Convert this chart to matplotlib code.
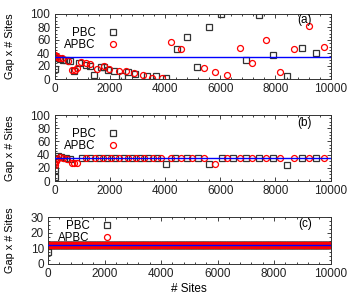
import numpy as np
import matplotlib
matplotlib.use("Agg")
import matplotlib.pyplot as plt
from matplotlib.ticker import MultipleLocator

plt.rcParams['font.family'] = ['Liberation Sans', 'DejaVu Sans']

# ---------------- data ----------------
# panel (a)
pbc_a_x = [0, 0, 100, 200, 300, 420, 560, 700, 900, 1150, 1280, 1440, 1670, 1800,
           1950, 2140, 2440, 2650, 2900, 3350, 3690, 4030,
           4420, 4790, 5170, 5590, 6030, 6920, 7420, 7900, 8420, 8950, 9480]
pbc_a_y = [15, 34, 32, 31, 30, 30, 28, 12, 25, 22, 20, 6, 18, 18,
           14, 12, 4, 11, 8, 4, 4, 1,
           46, 65, 18, 80, 99.5, 29, 98, 37, 4.6, 47, 40]
apbc_a_x = [0, 50, 100, 170, 270, 500, 620, 740, 830, 970, 1130, 1300, 1550, 1790,
            1970, 2320, 2590, 2870, 3190, 3530, 3890, 4200,
            4580, 5400, 5810, 6260, 6700, 7160, 7650, 8150, 8670, 9200, 9760]
apbc_a_y = [37, 36, 34, 33, 32, 28, 14, 14, 17, 26, 24, 23, 16, 19.5,
            16, 13, 13, 10, 6, 1.5, 2, 57,
            46, 16.4, 10.8, 5.6, 48, 25, 59.5, 11.3, 45.6, 81, 50]
line_a = 34.5

# panel (b)
pbc_b_x = [0, 20, 60, 140, 250, 400, 560, 1000, 1300, 1600, 1900, 2200, 2500, 2800,
           3100, 3400, 3700, 4040, 4370, 4790, 5180, 5590, 6050, 6470, 6930, 7420,
           7900, 8420, 8950, 9480]
pbc_b_y = [5.6, 17, 33, 38, 36, 35, 34, 35, 35, 35, 35, 35, 35, 35,
           35, 35, 35, 26, 35, 35, 35, 26, 35, 35, 35, 35,
           35, 25, 35, 35]
apbc_b_x = [0, 20, 50, 100, 200, 300, 450, 620, 720, 830, 1150, 1450, 1750, 2050,
            2350, 2650, 2950, 3250, 3550, 3850, 4200, 4580, 4990, 5400, 5810, 6260,
            6700, 7160, 7650, 8150, 8670, 9200, 9760]
apbc_b_y = [24, 27, 30, 33, 36, 35, 34, 27, 27, 27, 35, 35, 35, 35,
            35, 35, 35, 35, 35, 35, 35, 35, 35, 35, 26, 35,
            35, 35, 35, 35, 35, 35, 35]
line_b = 34.5

# panel (c)
c_x = np.arange(25, 10001, 25)
pbc_c_x = [0] + list(c_x)
pbc_c_y = [8.0] + [12.0] * len(c_x)
apbc_c_x = [0] + list(c_x)
apbc_c_y = [12.0] + [12.0] * len(c_x)
line_c = 12.0

xticks = [0, 2000, 4000, 6000, 8000, 10000]

# ---------------- figure ----------------
W, H = 350, 300
fig = plt.figure(figsize=(W / 100, H / 100), dpi=100)

def ax_at(l, r, t, b):
    return fig.add_axes([l / W, 1 - b / H, (r - l) / W, (b - t) / H])

axa = ax_at(54.5, 330.7, 14, 79)
axb = ax_at(54.5, 330.7, 115, 181)
axc = ax_at(48, 330.5, 217.3, 264)

sq_kw = dict(ls='none', marker='s', ms=4.3, mfc='none', mec='#333333', mew=0.9)
ci_kw = dict(ls='none', marker='o', ms=4.3, mfc='none', mec='#ff0000', mew=0.9)

panels = [
    (axa, pbc_a_x, pbc_a_y, apbc_a_x, apbc_a_y, line_a, (0, 100), 20, '(a)', 0.905, 0.91, 0.80, -0.143),
    (axb, pbc_b_x, pbc_b_y, apbc_b_x, apbc_b_y, line_b, (0, 100), 20, '(b)', 0.905, 0.885, 0.80, -0.143),
    (axc, pbc_c_x, pbc_c_y, apbc_c_x, apbc_c_y, line_c, (0, 30), 10, '(c)', 0.91, 0.85, 0.94, -0.117),
]

for ax, px, py, ax_, ay, ly, ylim, ystep, lab, lx, lyf, legy, ylx in panels:
    ax.plot(px, py, label='PBC', **sq_kw)
    ax.plot(ax_, ay, label='APBC', **ci_kw)
    ax.axhline(ly, color='#0000ff', lw=1.0, zorder=3)
    ax.set_xlim(0, 10000)
    ax.set_ylim(*ylim)
    ax.set_xticks(xticks)
    ax.yaxis.set_major_locator(MultipleLocator(ystep))
    ax.xaxis.set_minor_locator(MultipleLocator(400))
    ax.yaxis.set_minor_locator(MultipleLocator(ystep / 4))
    ax.tick_params(which='both', direction='in', top=True, right=True,
                   labelsize=8.5, colors='#222222', pad=3)
    ax.tick_params(which='major', length=3, width=0.6)
    ax.tick_params(which='minor', length=1.5, width=0.6)
    for s in ax.spines.values():
        s.set_linewidth(0.7)
        s.set_color('#333333')
    ax.set_ylabel('Gap x # Sites', fontsize=7.8)
    ax.yaxis.set_label_coords(ylx, 0.5)
    ax.text(lx, lyf, lab, transform=ax.transAxes, ha='center', va='center', fontsize=8.5)
    leg = ax.legend(loc='upper left', bbox_to_anchor=(0.035, legy), frameon=False,
                    markerfirst=False, fontsize=8.3, handlelength=1.0,
                    handletextpad=1.0, labelspacing=0.0, borderaxespad=0,
                    borderpad=0)
    for t in leg.get_texts():
        t.set_ha('right')

axc.set_xlabel('# Sites', fontsize=8.5, labelpad=2)

fig.savefig('out.png', dpi=100)
